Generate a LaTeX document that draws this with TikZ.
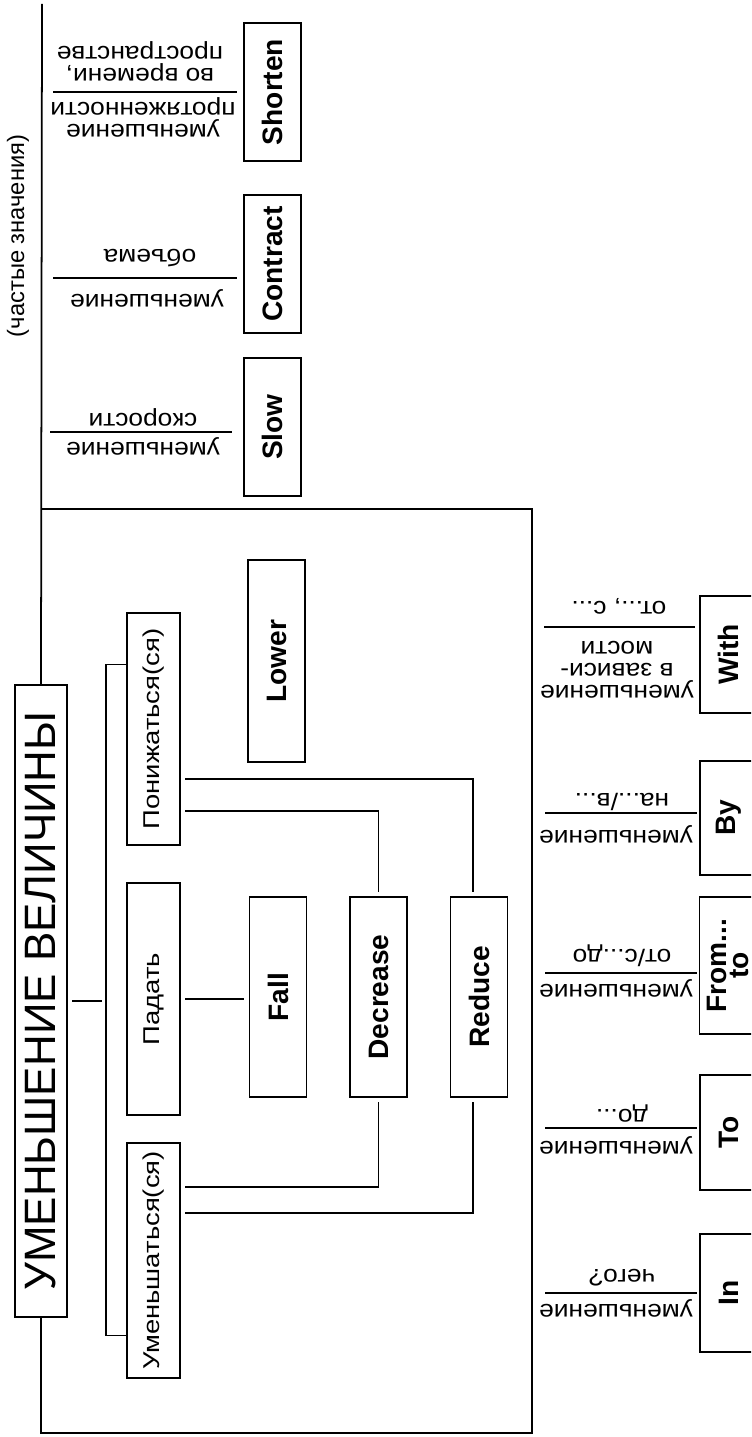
\documentclass[tikz,border=0pt]{standalone}
\usepackage{fontspec}
\setmainfont{Liberation Sans}
\newfontfamily\boxfont[FakeStretch=1.2]{Liberation Sans}
\newfontfamily\lblfont[FakeStretch=1.11]{Liberation Sans}
\usetikzlibrary{calc}

\begin{document}
\begin{tikzpicture}[x=0.2mm, y=-0.2mm,
  ru/.style={draw, line width=1pt, rotate=90, inner sep=0pt,
    minimum height=1.06cm, font=\boxfont\fontsize{13}{13}\selectfont},
  en/.style={draw, line width=1.1pt, rotate=90, inner sep=0pt, align=center,
    minimum height=1.14cm, font=\bfseries\fontsize{16}{14}\selectfont},
  lbl/.style={rotate=180, align=center, inner sep=0pt,
    font=\lblfont\fontsize{13.5}{12.5}\selectfont},
  link/.style={line width=1pt},
  gap/.style={shorten <=2.5pt, shorten >=2.5pt}]

\useasboundingbox (0,0) rectangle (751,1437);
\clip (0,0) rectangle (751,1437);

% === Title ===
\node[draw, line width=1pt, rotate=90, inner sep=0pt,
      minimum width=12.64cm, minimum height=1.04cm,
      font=\fontsize{25}{25}\selectfont] (vTitle) at (41,1001) {УМЕНЬШЕНИЕ ВЕЛИЧИНЫ};
\node[rotate=90, font=\fontsize{13.5}{13.5}\selectfont] (note) at (18,236) {(частые значения)};

% === Russian verbs ===
\node[ru, minimum width=4.64cm] (rPon) at (153.5,729) {Понижаться(ся)};
\node[ru, minimum width=4.64cm] (rPad) at (153.5,999) {Падать};
\node[ru, minimum width=4.7cm] (rUmen) at (153.5,1260.5) {Уменьшаться(ся)};

% === English verbs inside the frame ===
\node[en, minimum width=4.04cm] (vLower) at (276.5,661) {Lower};
\node[en, minimum width=4cm] (vFall) at (278,997) {Fall};
\node[en, minimum width=4cm] (vDecrease) at (378.5,997) {Decrease};
\node[en, minimum width=4cm] (vReduce) at (479,997) {Reduce};

% === Particular meanings (top) ===
\node[en, minimum width=2.76cm] (vShorten) at (272.5,92) {Shorten};
\node[en, minimum width=2.76cm] (vContract) at (272.5,264) {Contract};
\node[en, minimum width=2.76cm] (vSlow) at (272.5,427) {Slow};

% === Prepositions (right) ===
\node[en, minimum width=2.34cm] (vWith) at (728.5,654.5) {With};
\node[en, minimum width=2.28cm] (vBy) at (728.5,818) {By};
\node[en, minimum width=2.74cm, font=\bfseries\fontsize{16}{12.5}\selectfont]
     (vFromTo) at (728,965.5) {From...\\to};
\node[en, minimum width=2.3cm] (vTo) at (728.5,1132.5) {To};
\node[en, minimum width=2.36cm] (vIn) at (728.5,1293) {In};

% === Frame and title lines ===
\coordinate (fTR) at (532,509);
\coordinate (fBR) at (532,1433);
\coordinate (tEnd) at (42,4);
\draw[link] (vTitle.east) -- (tEnd);
\draw[link] (vTitle.west) |- (fBR) -- (fTR) -- (fTR -| tEnd);

% bracket joining the verbs
\coordinate (bTop) at ($($(rPon.north east)!0.224!(rPon.north west)$)+(-20,0)$);
\draw[link] ($(rPon.north east)!0.224!(rPon.north west)$) -- (bTop)
            |- ($(rUmen.north east)!0.817!(rUmen.north west)$);
\draw[link, gap] (vTitle.south) -- (vTitle.south -| bTop);

% connectors to the English verbs
\draw[link, gap] (rPad.south) -- (rPad.south -| vFall.north);
\draw[link, gap] ($(rPon.south east)!0.715!(rPon.south west)$) -| ($(vReduce.east)+(-6,0)$);
\draw[link, gap] ($(rPon.south east)!0.85!(rPon.south west)$) -| (vDecrease.east);
\draw[link, gap] ($(rUmen.south east)!0.19!(rUmen.south west)$) -| (vDecrease.west);
\draw[link, gap] ($(rUmen.south east)!0.30!(rUmen.south west)$) -| ($(vReduce.west)+(-6,0)$);

% === Labels (top group) ===
\draw[link] (53,92) -- (237,92);
\node[lbl] (lShortenA) at (143,117) {уменьшение\\протяженности};
\node[lbl] (lShortenB) at (140,61) {во времени,\\пространстве};

\draw[link] (53,278) -- (237,278);
\node[lbl] (lContractA) at (147,298) {уменьшение};
\node[lbl] (lContractB) at (150,258) {объема};

\draw[link] (50,432) -- (232,432);
\node[lbl] (lSlowA) at (143,446) {уменьшение};
\node[lbl] (lSlowB) at (143,417) {скорости};

% === Labels (right group) ===
\draw[link] (544,627) -- (695,627);
\node[lbl] (lWithA) at (617,670) {уменьшение\\в зависи-\\мости};
\node[lbl] (lWithB) at (619,606) {от..., с...};

\draw[link] (545,813) -- (697,813);
\node[lbl] (lByA) at (616,834) {уменьшение};
\node[lbl] (lByB) at (622,802) {на.../в...};

\draw[link] (545,973) -- (697,973);
\node[lbl] (lFromA) at (616,988) {уменьшение};
\node[lbl] (lFromB) at (622,956) {от/с...до};

\draw[link] (545,1128) -- (697,1128);
\node[lbl] (lToA) at (616,1145) {уменьшение};
\node[lbl] (lToB) at (622,1114) {до...};

\draw[link] (545,1293) -- (697,1293);
\node[lbl] (lInA) at (616,1308) {уменьшение};
\node[lbl] (lInB) at (622,1278) {чего?};

\end{tikzpicture}
\end{document}
